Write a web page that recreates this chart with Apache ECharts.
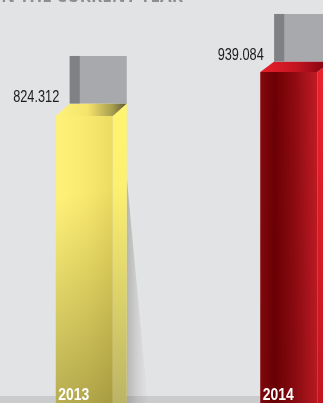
<!DOCTYPE html>
<html>
<head>
<meta charset="utf-8">
<style>
  html, body { margin: 0; padding: 0; background: #e2e3e5; }
  #chart { width: 323px; height: 403px; }
</style>
<script src="https://cdn.jsdelivr.net/npm/echarts@6/dist/echarts.min.js"></script>
</head>
<body>
<div id="chart"></div>
<script>
// Yearly totals shown as extruded 3D columns
const categories = ['2013', '2014'];
const values = [824.312, 939.084];
const valueLabels = ['824.312', '939.084'];
const titleText = 'IN THE CURRENT YEAR';

const G = echarts.graphic;

// Per-column face palettes
const palettes = [
  {
    front: [[0, '#fff27a'], [0.55, '#f8e96e'], [1, '#ecdb62']],
    frontShade: [[0, 'rgba(60,55,10,0)'], [0.25, 'rgba(60,55,10,0)'], [1, 'rgba(50,45,10,0.42)']],
    side: [[0, '#fff46e'], [0.25, '#fdf070'], [1, '#b3ac63']],
    top: [[0, '#fff27a'], [0.45, '#f4e46c'], [0.8, '#a79d4e'], [1, '#5a5430']],
    shadow: true
  },
  {
    front: [[0, '#86090d'], [0.25, '#6c0004'], [0.6, '#8e0b11'], [1, '#c21b24']],
    frontShade: [[0, 'rgba(40,0,0,0)'], [1, 'rgba(40,0,0,0.08)']],
    side: [[0, '#ea222c'], [1, '#c0141d']],
    top: [[0, '#e81f2b'], [0.5, '#c41520'], [1, '#7a0010']],
    shadow: false
  }
];

function renderColumn(params, api) {
  const idx = api.value(0);
  const v = api.value(1);
  const p = api.coord([idx, v]);
  const b = api.coord([idx, 0]);
  const cx = p[0], top = p[1], base = b[1];
  const hw = 28.5;          // half front width
  const dx = 14;            // extrusion depth, horizontal
  const dy = 12.5 - (cx - 84.5) / 204.5 * 2; // extrusion depth, vertical (slight perspective)
  const boxH = 47.5;        // grey plate above each column
  const pal = palettes[params.dataIndex];
  const L = cx - hw, R = cx + hw;
  const children = [];

  if (pal.shadow) {
    const sy = top + 61;
    const sw = (base - sy) * 21 / 226;
    children.push({
      type: 'polygon',
      shape: { points: [[R + dx, sy], [R + dx + sw, base], [R + dx, base]] },
      style: {
        fill: new G.LinearGradient(0, 0, 1, 0, [
          { offset: 0, color: 'rgba(95,95,80,0.34)' },
          { offset: 0.5, color: 'rgba(120,120,110,0.15)' },
          { offset: 1, color: 'rgba(150,150,150,0)' }
        ])
      }
    });
  }

  const stops = arr => arr.map(s => ({ offset: s[0], color: s[1] }));

  // side face
  children.push({
    type: 'polygon',
    shape: { points: [[R, top], [R + dx, top - dy], [R + dx, base - dy], [R, base]] },
    style: { fill: new G.LinearGradient(0, 0, 0, 1, stops(pal.side)) }
  });
  // front face
  children.push({
    type: 'rect',
    shape: { x: L, y: top, width: 2 * hw, height: base - top },
    style: { fill: new G.LinearGradient(0, 0, 1, 0, stops(pal.front)) }
  });
  children.push({
    type: 'rect',
    shape: { x: L, y: top, width: 2 * hw, height: base - top },
    style: { fill: new G.LinearGradient(0, 0, 1, 1, stops(pal.frontShade)) }
  });
  // top face
  children.push({
    type: 'polygon',
    shape: { points: [[L, top], [L + dx, top - dy], [R + dx, top - dy], [R, top]] },
    style: { fill: new G.LinearGradient(0, 0, 1, 0, stops(pal.top)) }
  });
  // grey plate behind the top
  children.push({
    type: 'rect',
    shape: { x: L + dx, y: top - dy - boxH, width: 2 * hw, height: boxH },
    style: { fill: '#a8a9ac' }
  });
  children.push({
    type: 'rect',
    shape: { x: L + dx, y: top - dy - boxH, width: 10, height: boxH },
    style: { fill: '#808184' }
  });
  // value label (condensed by horizontal scaling)
  children.push({
    type: 'text',
    x: L + 3.5, y: top - dy - 6,
    scaleX: 0.75,
    style: {
      x: 0, y: 0,
      text: valueLabels[params.dataIndex],
      align: 'right', verticalAlign: 'middle',
      font: '17px "Liberation Sans", sans-serif',
      fill: '#1c1c1c'
    }
  });
  // year label at the foot
  children.push({
    type: 'text',
    x: L + 2.5, y: 395.5,
    scaleX: 0.82,
    style: {
      x: 0, y: 0,
      text: categories[params.dataIndex],
      align: 'left', verticalAlign: 'middle',
      font: 'bold 17px "Liberation Sans", sans-serif',
      fill: '#ffffff'
    }
  });
  return { type: 'group', children };
}

const chart = echarts.init(document.getElementById('chart'), null, { renderer: 'canvas' });
chart.setOption({
  backgroundColor: '#e2e3e5',
  animation: false,
  grid: { left: -18, top: 48.6, width: 409, height: 383.4, outerBoundsMode: 'none', containLabel: false },
  xAxis: { type: 'category', data: categories, show: false },
  yAxis: { type: 'value', min: 0, max: 1000, show: false },
  graphic: [
    {
      type: 'rect', z: 0,
      shape: { x: 0, y: 396, width: 323, height: 7 },
      style: { fill: '#cacbcd' }
    },
    {
      type: 'text', z: 0,
      x: 183, y: -2.5,
      style: {
        x: 0, y: 0, text: titleText,
        align: 'right', verticalAlign: 'middle',
        font: 'bold 17px "Open Sans", sans-serif',
        fill: '#8d8e91'
      }
    }
  ],
  series: [{
    type: 'custom',
    z: 2,
    renderItem: renderColumn,
    data: categories.map((c, i) => [i, values[i]])
  }]
});
</script>
</body>
</html>
